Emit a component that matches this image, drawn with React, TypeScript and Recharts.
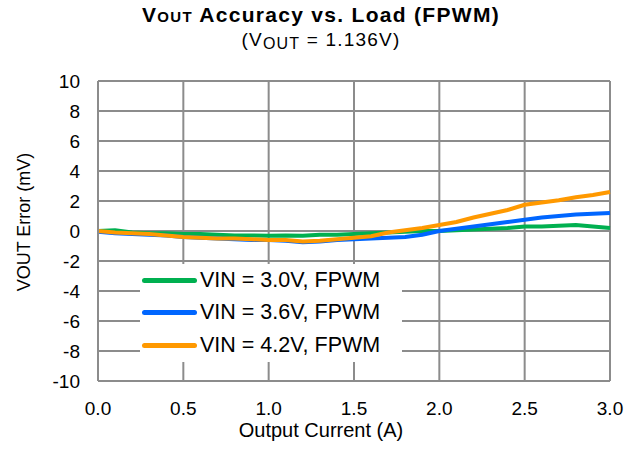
import React from "react";
import {
  LineChart,
  Line,
  XAxis,
  YAxis,
  CartesianGrid,
  Label,
} from "recharts";

const currentA = [
  0.0, 0.1, 0.2, 0.3, 0.4, 0.5, 0.6, 0.7, 0.8, 0.9, 1.0, 1.1, 1.2, 1.3, 1.4, 1.5,
  1.6, 1.7, 1.8, 1.9, 2.0, 2.1, 2.2, 2.3, 2.4, 2.5, 2.6, 2.7, 2.8, 2.9, 3.0,
];

const vin30 = [
  0.0, 0.05, -0.1, -0.15, -0.15, -0.2, -0.2, -0.25, -0.3, -0.3, -0.32, -0.3, -0.32, -0.25, -0.25,
  -0.2, -0.15, -0.1, -0.05, 0.0, 0.0, 0.05, 0.1, 0.15, 0.2, 0.3, 0.3, 0.35, 0.4, 0.3, 0.2,
];

const vin36 = [
  -0.05, -0.15, -0.2, -0.25, -0.3, -0.4, -0.45, -0.5, -0.55, -0.6, -0.6, -0.65, -0.75, -0.7, -0.6,
  -0.55, -0.5, -0.45, -0.4, -0.25, 0.0, 0.15, 0.3, 0.45, 0.6, 0.75, 0.9, 1.0, 1.1, 1.15, 1.2,
];

const vin42 = [
  0.0, -0.1, -0.15, -0.2, -0.3, -0.4, -0.45, -0.5, -0.5, -0.55, -0.6, -0.6, -0.7, -0.65, -0.55,
  -0.45, -0.35, -0.1, 0.05, 0.2, 0.4, 0.6, 0.9, 1.15, 1.4, 1.75, 1.9, 2.05, 2.25, 2.4, 2.6,
];

const yTicks = [-10, -8, -6, -4, -2, 0, 2, 4, 6, 8, 10];
const xTicks = [0, 0.5, 1.0, 1.5, 2.0, 2.5, 3.0];

const SERIES = [
  { key: "vin30", name: "VIN = 3.0V, FPWM", color: "#00b050" },
  { key: "vin36", name: "VIN = 3.6V, FPWM", color: "#0066ff" },
  { key: "vin42", name: "VIN = 4.2V, FPWM", color: "#ff9900" },
];

const data = currentA.map((x, i) => ({
  x,
  vin30: vin30[i],
  vin36: vin36[i],
  vin42: vin42[i],
}));

const FONT = "'Liberation Sans', Arial, sans-serif";
const GRID = "#8c8c8c";

function LegendBox() {
  return (
    <div
      style={{
        position: "absolute",
        left: 140,
        top: 264,
        width: 258,
        background: "#fff",
        padding: "0 2px",
        fontFamily: FONT,
      }}
    >
      {SERIES.map((s) => (
        <div
          key={s.key}
          style={{ display: "flex", alignItems: "center", height: 32.5, fontSize: 21.5, color: "#000" }}
        >
          <span
            style={{
              display: "inline-block",
              width: 55,
              height: 5,
              borderRadius: 3,
              background: s.color,
              marginRight: 3,
            }}
          />
          {s.name}
        </div>
      ))}
    </div>
  );
}

export default function App() {
  return (
    <div
      style={{
        position: "absolute",
        left: 0,
        top: 0,
        width: 629,
        height: 455,
        background: "#fff",
        fontFamily: FONT,
      }}
    >
      <div
        style={{
          position: "absolute",
          left: 0,
          width: 642,
          top: 4,
          textAlign: "center",
          fontSize: 21,
          fontWeight: "bold",
          letterSpacing: 1.3,
          lineHeight: "22px",
        }}
      >
        V<span style={{ fontSize: 15 }}>OUT</span> Accuracy vs. Load (FPWM)
      </div>
      <div
        style={{
          position: "absolute",
          left: 0,
          width: 642,
          top: 29,
          textAlign: "center",
          fontSize: 19,
          letterSpacing: 1.2,
          lineHeight: "22px",
        }}
      >
        (V<sub style={{ fontSize: 16, verticalAlign: "-3px" }}>OUT</sub> = 1.136V)
      </div>
      <LineChart
        width={629}
        height={455}
        data={data}
        margin={{ top: 81, right: 19, bottom: 44, left: 0 }}
        style={{ position: "absolute", left: 0, top: 0 }}
      >
        <CartesianGrid stroke={GRID} strokeWidth={2} />
        <XAxis
          dataKey="x"
          type="number"
          domain={[0, 3]}
          ticks={xTicks}
          tickFormatter={(v) => v.toFixed(1)}
          tick={{ fill: "#000", fontSize: 19, fontFamily: FONT }}
          tickLine={false}
          axisLine={{ stroke: GRID, strokeWidth: 2 }}
          tickMargin={15}
          height={30}
          interval={0}
        >
          <Label
            value="Output Current (A)"
            position="bottom"
            offset={12}
            dx={-33}
            style={{ fill: "#000", fontSize: 20, fontFamily: FONT }}
          />
        </XAxis>
        <YAxis
          type="number"
          domain={[-10, 10]}
          ticks={yTicks}
          tick={{ fill: "#000", fontSize: 19, fontFamily: FONT }}
          tickLine={false}
          axisLine={{ stroke: GRID, strokeWidth: 2 }}
          tickMargin={12}
          width={98}
          interval={0}
        >
          <Label
            value="VOUT Error (mV)"
            angle={-90}
            position="insideLeft"
            offset={24}
            dy={-9}
            style={{ fill: "#000", fontSize: 18, fontFamily: FONT, textAnchor: "middle" }}
          />
        </YAxis>
        {SERIES.map((s) => (
          <Line
            key={s.key}
            dataKey={s.key}
            name={s.name}
            stroke={s.color}
            strokeWidth={4}
            dot={false}
            type="linear"
            isAnimationActive={false}
          />
        ))}
      </LineChart>
      <LegendBox />
    </div>
  );
}
